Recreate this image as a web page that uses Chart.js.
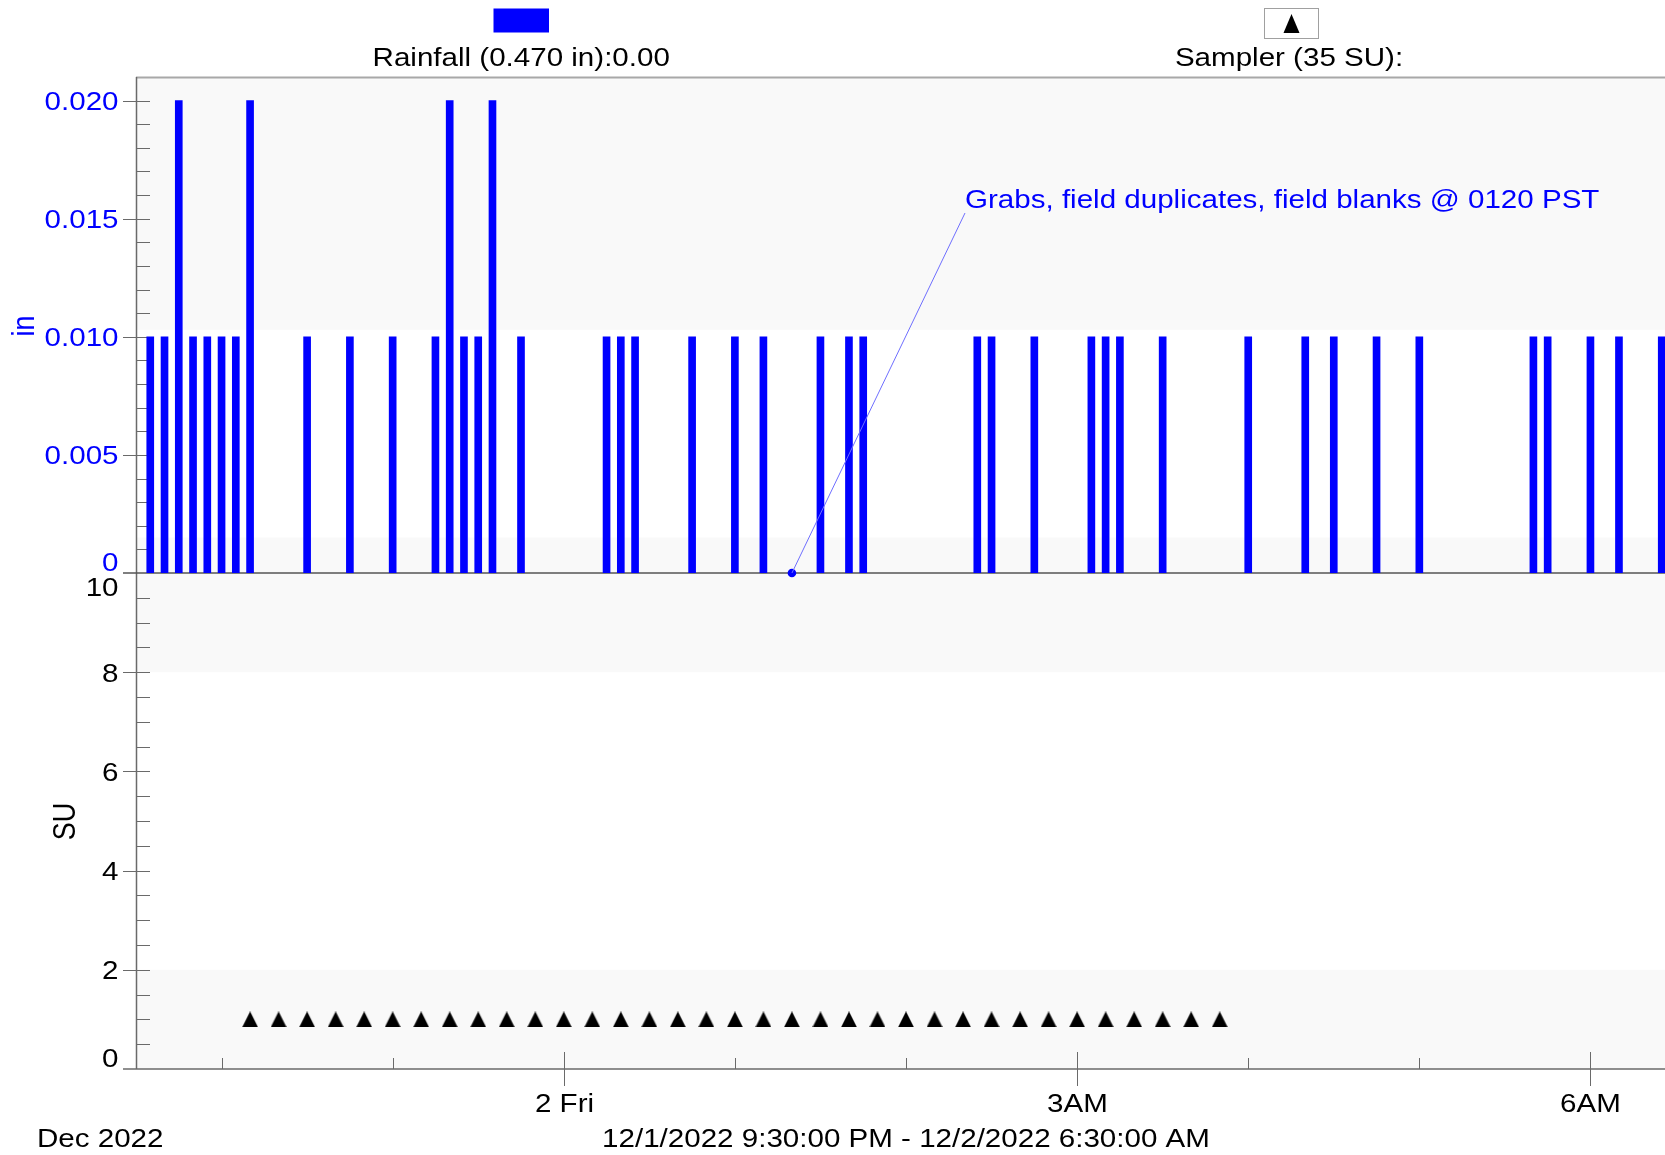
<!DOCTYPE html>
<html>
<head>
<meta charset="utf-8">
<script src="https://cdn.jsdelivr.net/npm/chart.js@4.4.1/dist/chart.umd.min.js"></script>
<style>
html,body{margin:0;padding:0;background:#ffffff;overflow:hidden;}
canvas{display:block;}
</style>
</head>
<body>
<canvas id="c" width="1676" height="1155"></canvas>
<script>
// ---------------- data ----------------
const rainTimes = ["21:35","21:40","21:45","21:50","21:55","22:00","22:05","22:10","22:30","22:45",
  "23:00","23:15","23:20","23:25","23:30","23:35","23:45","00:15","00:20","00:25",
  "00:45","01:00","01:10","01:30","01:40","01:45","02:25","02:30","02:45","03:05",
  "03:10","03:15","03:30","04:00","04:20","04:30","04:45","05:00","05:40","05:45",
  "06:00","06:10","06:25"];
const rainValues = [0.01,0.01,0.02,0.01,0.01,0.01,0.01,0.02,0.01,0.01,
  0.01,0.01,0.02,0.01,0.01,0.02,0.01,0.01,0.01,0.01,
  0.01,0.01,0.01,0.01,0.01,0.01,0.01,0.01,0.01,0.01,
  0.01,0.01,0.01,0.01,0.01,0.01,0.01,0.01,0.01,0.01,
  0.01,0.01,0.01];
const samplerTimes = ["22:10","22:20","22:30","22:40","22:50","23:00","23:10","23:20","23:30","23:40",
  "23:50","00:00","00:10","00:20","00:30","00:40","00:50","01:00","01:10","01:20",
  "01:30","01:40","01:50","02:00","02:10","02:20","02:30","02:40","02:50","03:00",
  "03:10","03:20","03:30","03:40","03:50"];
const samplerValues = [1,1,1,1,1,1,1,1,1,1, 1,1,1,1,1,1,1,1,1,1, 1,1,1,1,1,1,1,1,1,1, 1,1,1,1,1];
const rainTickValues = [0, 0.005, 0.010, 0.015, 0.020];
const rainTickLabels = ["0", "0.005", "0.010", "0.015", "0.020"];
const suTickValues = [0, 2, 4, 6, 8, 10];
const suTickLabels = ["0", "2", "4", "6", "8", "10"];
const xMajorTimes = ["00:00", "03:00", "06:00"];
const xMajorLabels = ["2 Fri", "3AM", "6AM"];
const xMinorTimes = ["22:00", "23:00", "01:00", "02:00", "04:00", "05:00"];
const startTime = "21:30";
const endTime = "06:30";
const annotationTime = "01:20";
const annotationValue = 0;
const annotationText = "Grabs, field duplicates, field blanks @ 0120 PST";
const rainLegend = "Rainfall (0.470 in):0.00";
const samplerLegend = "Sampler (35 SU):";
const monthLabel = "Dec 2022";
const rangeLabel = "12/1/2022 9:30:00 PM - 12/2/2022 6:30:00 AM";

// ---------------- helpers ----------------
function toMin(t) {
  const [h, m] = t.split(':').map(Number);
  const [h0, m0] = startTime.split(':').map(Number);
  let v = h * 60 + m - (h0 * 60 + m0);
  if (v < 0) v += 1440;
  return v;
}
const FONT = '"Liberation Sans", Arial, sans-serif';
const FS = 26.5;
const SX = 1.115;
function txt(ctx, s, x, y, align, size, color) {
  ctx.save();
  ctx.font = size + 'px ' + FONT;
  ctx.fillStyle = color;
  ctx.textAlign = align;
  ctx.textBaseline = 'alphabetic';
  ctx.translate(x, y);
  ctx.scale(SX, 1);
  ctx.fillText(s, 0, 0);
  ctx.restore();
}
function vtxt(ctx, s, x, y, size, color) {
  ctx.save();
  ctx.font = size + 'px ' + FONT;
  ctx.fillStyle = color;
  ctx.textAlign = 'center';
  ctx.textBaseline = 'alphabetic';
  ctx.translate(x, y);
  ctx.scale(1.16, 1);
  ctx.rotate(-Math.PI / 2);
  ctx.fillText(s, 0, 0);
  ctx.restore();
}
function line(ctx, x1, y1, x2, y2, color, w) {
  ctx.save();
  ctx.strokeStyle = color; ctx.lineWidth = w;
  ctx.beginPath(); ctx.moveTo(x1, y1); ctx.lineTo(x2, y2); ctx.stroke();
  ctx.restore();
}
function triCanvas(w, h) {
  const c = document.createElement('canvas');
  c.width = w; c.height = h;
  const g = c.getContext('2d');
  g.fillStyle = '#000';
  g.beginPath(); g.moveTo(w / 2, 0); g.lineTo(w, h); g.lineTo(0, h); g.closePath(); g.fill();
  return c;
}
const TRI = triCanvas(16, 16);

const BLUE = '#0000ff';
const AXIS = '#6a6a6a';

const decor = {
  id: 'decor',
  beforeDatasetsDraw(chart) {
    const {ctx, chartArea: a, scales} = chart;
    const x = scales.x, yr = scales.yRain, ys = scales.ySU;
    const L = a.left;
    ctx.save();
    ctx.fillStyle = '#f9f9f9';
    ctx.fillRect(a.left, a.top, a.right - a.left, a.bottom - a.top);
    ctx.fillStyle = '#ffffff';
    const r1 = yr.getPixelForValue(0.0103), r2 = yr.getPixelForValue(0.0015);
    ctx.fillRect(a.left, r1, a.right - a.left, r2 - r1);
    const s1 = ys.getPixelForValue(8), s2 = ys.getPixelForValue(2);
    ctx.fillRect(a.left, s1, a.right - a.left, s2 - s1);
    ctx.restore();
    // top border
    line(ctx, L, yr.top + 0.5, 1676, yr.top + 0.5, '#a8a8a8', 2);
    // left axis
    line(ctx, L + 0.5, yr.top, L + 0.5, ys.bottom, AXIS, 1.5);
    // rain ticks: minor every 0.001
    for (let k = 1; k <= 20; k++) {
      const py = Math.round(yr.getPixelForValue(k * 0.001)) + 0.5;
      if (k % 5 === 0) line(ctx, L - 13, py, L + 14, py, AXIS, 1);
      else line(ctx, L, py, L + 14, py, AXIS, 1);
    }
    // SU ticks: minor every 0.5
    for (let k = 1; k < 20; k++) {
      const py = Math.round(ys.getPixelForValue(k * 0.5)) + 0.5;
      if (k % 4 === 0) line(ctx, L - 13, py, L + 14, py, AXIS, 1);
      else line(ctx, L, py, L + 14, py, AXIS, 1);
    }
    // panel boundary & bottom axis
    const yb = yr.getPixelForValue(0);
    line(ctx, L - 13, yb, 1676, yb, '#555555', 1.5);
    const y0 = ys.getPixelForValue(0);
    line(ctx, L - 13, y0, 1676, y0, AXIS, 1.5);
    // x ticks
    xMinorTimes.forEach(t => {
      const px = Math.round(x.getPixelForValue(toMin(t))) + 0.5;
      line(ctx, px, y0 - 11, px, y0, AXIS, 1);
    });
    xMajorTimes.forEach(t => {
      const px = Math.round(x.getPixelForValue(toMin(t))) + 0.5;
      line(ctx, px, y0 - 17, px, y0 + 17, AXIS, 1);
    });
  },
  afterDatasetsDraw(chart) {
    const {ctx, scales} = chart;
    const x = scales.x, yr = scales.yRain, ys = scales.ySU;
    xMajorTimes.forEach((t, i) => {
      const px = Math.round(x.getPixelForValue(toMin(t))) + 0.5;
      txt(ctx, xMajorLabels[i], px, 1112, 'center', FS, '#000');
    });
    txt(ctx, monthLabel, 37, 1147, 'left', FS, '#000');
    txt(ctx, rangeLabel, 906, 1147, 'center', FS, '#000');
    // y labels
    rainTickValues.forEach((v, i) => {
      let cy = yr.getPixelForValue(v);
      if (v === 0) cy -= 12;
      txt(ctx, rainTickLabels[i], 118.5, cy + 9.5, 'right', FS, BLUE);
    });
    suTickValues.forEach((v, i) => {
      let cy = ys.getPixelForValue(v);
      if (v === 10) cy += 13;
      if (v === 0) cy -= 11.5;
      txt(ctx, suTickLabels[i], 118.5, cy + 9.5, 'right', FS, '#000');
    });
    // axis titles
    vtxt(ctx, 'in', 34, (yr.top + yr.bottom) / 2 + 1, 27, BLUE);
    vtxt(ctx, 'SU', 75, (ys.top + ys.bottom) / 2 + 0.5, 27, '#000');
    // annotation
    const ax = x.getPixelForValue(toMin(annotationTime));
    const ay = yr.getPixelForValue(annotationValue);
    line(ctx, ax, ay, 965, 213, '#6f6fff', 1);
    txt(ctx, annotationText, 965, 208, 'left', FS, BLUE);
    // legend
    ctx.save();
    ctx.fillStyle = BLUE;
    ctx.fillRect(493.5, 8.5, 55.5, 24);
    ctx.fillStyle = '#ffffff';
    ctx.fillRect(1264, 8.5, 54.5, 30.5);
    ctx.strokeStyle = '#a0a0a0'; ctx.lineWidth = 1;
    ctx.strokeRect(1264.5, 8.5, 54, 30);
    ctx.fillStyle = '#000';
    ctx.beginPath(); ctx.moveTo(1291.5, 14); ctx.lineTo(1299.5, 33); ctx.lineTo(1283.5, 33); ctx.closePath(); ctx.fill();
    ctx.restore();
    txt(ctx, rainLegend, 521.2, 66, 'center', FS, '#000');
    txt(ctx, samplerLegend, 1289, 66, 'center', FS, '#000');
  }
};

new Chart(document.getElementById('c'), {
  type: 'bar',
  data: {
    datasets: [
      {
        type: 'scatter',
        label: 'Annotation',
        data: [{x: toMin(annotationTime), y: annotationValue}],
        xAxisID: 'x', yAxisID: 'yRain',
        pointStyle: 'circle', pointRadius: 4.3, borderWidth: 0,
        backgroundColor: BLUE, showLine: false, order: 0, clip: false
      },
      {
        type: 'bar',
        label: 'Rainfall',
        data: rainTimes.map((t, i) => ({x: toMin(t), y: rainValues[i]})),
        xAxisID: 'x', yAxisID: 'yRain',
        backgroundColor: BLUE, borderWidth: 0,
        barThickness: 7, order: 2
      },
      {
        type: 'scatter',
        label: 'Sampler',
        data: samplerTimes.map((t, i) => ({x: toMin(t), y: samplerValues[i]})),
        xAxisID: 'x', yAxisID: 'ySU',
        pointStyle: TRI, pointRadius: 8, showLine: false, order: 1
      }
    ]
  },
  options: {
    responsive: false,
    animation: false,
    devicePixelRatio: 1,
    layout: {autoPadding: false, padding: {top: 77, left: 0, right: 0, bottom: 0}},
    plugins: {legend: {display: false}, tooltip: {enabled: false}, title: {display: false}},
    scales: {
      x: {
        type: 'linear', min: toMin(startTime), max: toMin(endTime), offset: false,
        grid: {display: false}, border: {display: false}, ticks: {display: false},
        afterFit(s) { s.height = 86; }
      },
      ySU: {
        type: 'linear', position: 'left', stack: 'v', stackWeight: 1, min: 0, max: 10,
        grid: {display: false}, border: {display: false}, ticks: {display: false},
        afterFit(s) { s.width = 136; }
      },
      yRain: {
        type: 'linear', position: 'left', stack: 'v', stackWeight: 1, min: 0, max: 0.021,
        grid: {display: false}, border: {display: false}, ticks: {display: false},
        afterFit(s) { s.width = 136; }
      }
    }
  },
  plugins: [decor]
});
</script>
</body>
</html>
